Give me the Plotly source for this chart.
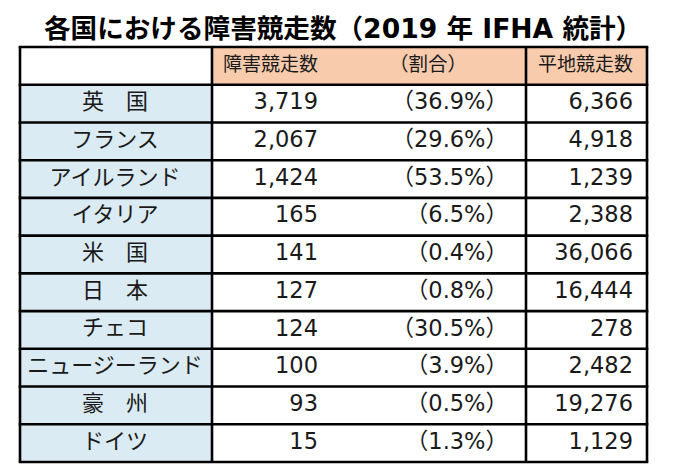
import plotly.graph_objects as go

# ---- data ----
countries = ["英　国", "フランス", "アイルランド", "イタリア", "米　国", "日　本",
             "チェコ", "ニュージーランド", "豪　州", "ドイツ"]
jump_races = [3719, 2067, 1424, 165, 141, 127, 124, 100, 93, 15]
jump_share = [36.9, 29.6, 53.5, 6.5, 0.4, 0.8, 30.5, 3.9, 0.5, 1.3]
flat_races = [6366, 4918, 1239, 2388, 36066, 16444, 278, 2482, 19276, 1129]
headers = ["", "障害競走数", "（割合）", "平地競走数"]
title = "各国における障害競走数（2019 年 IFHA 統計）"

# ---- layout geometry ----
W, H = 674, 468
left, right = 20, 647
col_b1, col_b2 = 212, 526
top, bottom = 47, 462
n_rows = len(countries) + 1
rh = (bottom - top) / n_rows

FONT = "DejaVu Sans, Noto Sans CJK JP, sans-serif"
CJK = "Noto Sans CJK JP, sans-serif"
TXT = "#1a1a1a"
PEACH = "#F8CBAD"
BLUE = "#DAEBF3"

def row_y(i):  # i = 0 header, 1.. data
    return top + (i + 0.5) * rh

fig = go.Figure()
shapes = []
# fills
shapes.append(dict(type="rect", x0=col_b1, x1=right, y0=top, y1=top + rh,
                   fillcolor=PEACH, line_width=0, layer="below"))
shapes.append(dict(type="rect", x0=left, x1=col_b1, y0=top + rh, y1=bottom,
                   fillcolor=BLUE, line_width=0, layer="below"))
# grid lines
LW = 2.6
for i in range(n_rows + 1):
    y = top + i * rh
    shapes.append(dict(type="line", x0=left - LW / 2, x1=right + LW / 2, y0=y, y1=y,
                       line=dict(color="#000", width=LW)))
for x in [left, col_b1, col_b2, right]:
    shapes.append(dict(type="line", x0=x, x1=x, y0=top, y1=bottom,
                       line=dict(color="#000", width=LW)))

ys = [row_y(i + 1) for i in range(len(countries))]

fig.add_trace(go.Scatter(x=[115] * len(countries), y=ys, text=countries,
                         mode="text", textposition="middle center",
                         textfont=dict(family=CJK, size=22, color=TXT),
                         hoverinfo="skip"))
fig.add_trace(go.Scatter(x=[318] * len(jump_races), y=ys,
                         text=[f"{v:,}" for v in jump_races],
                         mode="text", textposition="middle left",
                         textfont=dict(family=FONT, size=22.5, color=TXT),
                         hoverinfo="skip"))
fig.add_trace(go.Scatter(x=[508] * len(jump_share), y=ys,
                         text=[f"（{v:.1f}%）" for v in jump_share],
                         mode="text", textposition="middle left",
                         textfont=dict(family=FONT, size=22.5, color=TXT),
                         hoverinfo="skip"))
fig.add_trace(go.Scatter(x=[633] * len(flat_races), y=ys,
                         text=[f"{v:,}" for v in flat_races],
                         mode="text", textposition="middle left",
                         textfont=dict(family=FONT, size=22.5, color=TXT),
                         hoverinfo="skip"))
# headers
hy = row_y(0)
fig.add_trace(go.Scatter(x=[318, 633], y=[hy, hy], text=[headers[1], headers[3]],
                         mode="text", textposition="middle left",
                         textfont=dict(family=CJK, size=19, color=TXT),
                         hoverinfo="skip"))
fig.add_trace(go.Scatter(x=[428], y=[hy], text=[headers[2]],
                         mode="text", textposition="middle center",
                         textfont=dict(family=CJK, size=19.5, color=TXT),
                         hoverinfo="skip"))

fig.add_annotation(x=343, y=28, xref="x", yref="y", text=f"<b>{title}</b>",
                   showarrow=False, xanchor="center", yanchor="middle",
                   font=dict(family=FONT, size=26.6, color="#000"))

fig.update_layout(
    width=W, height=H, margin=dict(l=0, r=0, t=0, b=0),
    paper_bgcolor="white", plot_bgcolor="white", showlegend=False,
    shapes=shapes,
    xaxis=dict(range=[0, W], visible=False, fixedrange=True),
    yaxis=dict(range=[H, 0], visible=False, fixedrange=True),
)
fig.write_html("out.html", config={"displayModeBar": False},
               post_script="document.body.style.margin='0';")
